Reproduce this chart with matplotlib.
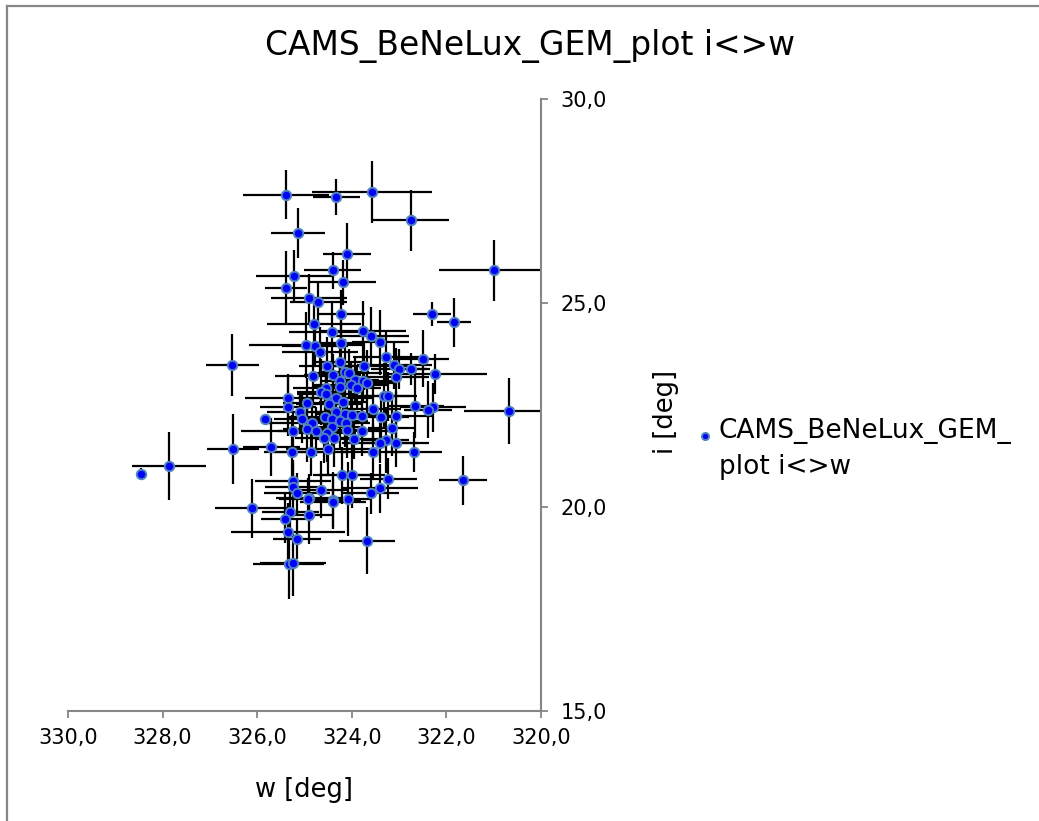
import matplotlib
matplotlib.use("Agg")
import matplotlib.pyplot as plt
from matplotlib.lines import Line2D
from matplotlib.ticker import FuncFormatter

# data (w, i and their uncertainties, deg)
w = [325.39, 324.33, 323.57, 322.75, 325.14, 324.10, 321.00, 324.40, 325.22, 325.39,
     324.19, 324.90, 324.71, 324.23, 324.80, 324.42, 322.30, 321.84, 323.76, 323.60,
     323.40, 324.97, 324.78, 324.67, 324.23, 323.28, 322.50, 323.10, 323.00, 322.75,
     322.24, 323.07, 324.52, 324.25, 323.74, 324.14, 324.06, 324.40, 324.82, 323.93,
     323.76, 323.68, 324.02, 324.25, 324.25, 323.89, 324.55, 324.65, 324.55, 324.33,
     324.19, 324.48, 325.35, 325.35, 324.95, 325.10, 325.05, 324.57, 324.33, 324.14,
     324.00, 323.78, 324.42, 324.25, 324.84, 324.12, 324.10, 324.42, 324.95, 324.76,
     324.52, 325.24, 323.78, 324.37, 324.59, 323.95, 324.50, 323.55, 323.32, 323.23,
     322.66, 322.28, 322.39, 323.07, 323.38, 323.15, 323.07, 323.28, 323.40, 322.69,
     323.55, 324.86, 325.26, 325.70, 325.83, 324.21, 324.00, 323.23, 321.65, 325.24,
     325.24, 325.16, 324.65, 323.40, 323.60, 324.90, 324.40, 324.08, 328.46, 327.86,
     326.51, 326.11, 325.30, 325.41, 325.35, 325.16, 325.33, 325.24, 324.93, 324.90,
     324.40, 323.68, 320.68, 326.53]
i = [27.65, 27.60, 27.72, 27.03, 26.72, 26.20, 25.80, 25.80, 25.66, 25.37,
     25.51, 25.12, 25.02, 24.73, 24.49, 24.29, 24.73, 24.53, 24.31, 24.19,
     24.04, 23.97, 23.95, 23.80, 24.02, 23.68, 23.63, 23.48, 23.38, 23.38,
     23.26, 23.19, 23.46, 23.55, 23.46, 23.31, 23.28, 23.24, 23.21, 23.11,
     23.09, 23.04, 22.99, 23.09, 22.94, 22.92, 22.92, 22.82, 22.77, 22.67,
     22.57, 22.52, 22.67, 22.45, 22.55, 22.33, 22.16, 22.20, 22.33, 22.28,
     22.25, 22.23, 22.16, 22.11, 22.06, 22.06, 21.89, 21.96, 21.91, 21.86,
     21.81, 21.86, 21.86, 21.69, 21.69, 21.67, 21.42, 22.40, 22.72, 22.72,
     22.48, 22.45, 22.38, 22.23, 22.20, 21.94, 21.57, 21.64, 21.57, 21.35,
     21.35, 21.35, 21.35, 21.47, 22.16, 20.78, 20.78, 20.69, 20.66, 20.64,
     20.49, 20.34, 20.42, 20.46, 20.34, 20.22, 20.17, 20.20, 20.80, 21.00,
     21.42, 19.97, 19.88, 19.71, 19.39, 19.22, 18.60, 18.62, 20.20, 19.80,
     20.12, 19.17, 22.35, 23.48]
w_err = [0.90, 0.50, 1.27, 0.80, 0.57, 0.50, 1.15, 0.60, 0.80, 0.45,
         0.70, 0.80, 0.60, 0.50, 1.00, 0.90, 0.40, 0.35, 0.90, 0.80,
         0.60, 1.20, 0.70, 0.80, 0.50, 0.70, 0.55, 0.80, 0.60, 0.40,
         1.10, 0.70, 0.60, 0.50, 0.90, 0.50, 0.70, 0.60, 0.80, 0.50,
         0.70, 0.60, 0.80, 0.40, 0.60, 0.50, 0.70, 0.50, 0.60, 0.80,
         0.50, 0.70, 0.90, 0.60, 0.50, 0.70, 0.60, 0.80, 0.50, 0.60,
         0.70, 0.90, 0.50, 0.60, 1.00, 0.50, 0.70, 0.60, 0.50, 0.80,
         0.60, 1.10, 0.70, 0.50, 0.60, 0.80, 0.90, 0.60, 0.70, 0.50,
         0.60, 0.70, 0.50, 0.80, 0.60, 0.50, 0.70, 0.50, 0.80, 0.60,
         0.70, 0.80, 0.60, 0.60, 0.05, 0.60, 0.70, 0.60, 0.50, 0.80,
         0.60, 0.70, 0.60, 0.80, 0.60, 0.70, 0.60, 0.50, 0.05, 0.78,
         0.55, 0.78, 0.60, 0.50, 1.20, 0.50, 0.75, 0.70, 0.60, 0.50,
         0.70, 0.60, 0.95, 0.56]
i_err = [0.60, 0.45, 0.75, 0.75, 0.62, 0.75, 0.75, 0.45, 0.65, 0.90,
         0.55, 0.60, 0.50, 0.60, 0.60, 0.70, 0.30, 0.60, 0.75, 0.70,
         0.80, 0.80, 0.50, 0.60, 0.60, 0.60, 0.70, 0.60, 0.50, 0.40,
         0.50, 0.70, 0.70, 0.50, 0.60, 0.80, 0.60, 0.50, 0.70, 0.60,
         0.50, 0.80, 0.60, 0.50, 0.70, 0.50, 0.60, 0.80, 0.50, 0.60,
         0.70, 0.50, 0.60, 0.70, 0.60, 0.50, 0.60, 0.70, 0.60, 0.80,
         0.50, 0.60, 0.50, 0.70, 0.60, 0.60, 0.70, 0.50, 0.80, 0.60,
         0.70, 0.50, 0.60, 0.70, 0.60, 0.50, 0.60, 0.70, 0.80, 0.60,
         0.80, 0.60, 0.70, 0.60, 0.50, 0.70, 0.60, 0.80, 0.50, 0.50,
         0.70, 0.60, 0.90, 0.70, 0.05, 0.70, 0.80, 0.50, 0.60, 0.50,
         0.60, 0.50, 0.70, 0.60, 0.50, 0.60, 0.70, 0.90, 0.15, 0.83,
         0.85, 0.72, 0.50, 0.60, 0.70, 0.50, 0.85, 0.80, 0.50, 0.70,
         0.60, 0.82, 0.80, 0.75]

series_name = "CAMS_BeNeLux_GEM_\nplot i<>w"

fig = plt.figure(figsize=(10.39, 8.21), dpi=100)
ax = fig.add_axes([0.0654, 0.134, 0.4553, 0.7454])

ax.errorbar(w, i, xerr=w_err, yerr=i_err, fmt='none', ecolor='black',
            elinewidth=1.6, capsize=0, zorder=2)
ax.plot(w, i, 'o', color='#0000ff', markeredgecolor='#4f81bd',
        markeredgewidth=1.4, markersize=6.8, linestyle='none', zorder=3,
        label=series_name)

ax.set_xlim(330, 320)
ax.set_ylim(15, 30)
ax.set_xticks([330, 328, 326, 324, 322, 320])
ax.set_yticks([15, 20, 25, 30])
fmt = FuncFormatter(lambda v, p: f"{v:.1f}".replace('.', ','))
ax.xaxis.set_major_formatter(fmt)
ax.yaxis.set_major_formatter(fmt)

ax.yaxis.tick_right()
for s in ['left', 'top']:
    ax.spines[s].set_visible(False)
for s in ['right', 'bottom']:
    ax.spines[s].set_color('#868686')
    ax.spines[s].set_linewidth(1.5)
ax.tick_params(axis='both', direction='out', length=5, width=1.3,
               color='#868686', labelsize=15, labelcolor='black')
ax.tick_params(axis='x', pad=7)
ax.tick_params(axis='y', pad=9)

ax.set_xlabel("w [deg]", fontsize=18.5, labelpad=21)
fig.text(666 / 1039, 1 - 412 / 821, "i [deg]", rotation=90, fontsize=18.5,
         ha='center', va='center')
fig.text(530 / 1039, 1 - 46 / 821, "CAMS_BeNeLux_GEM_plot i<>w", fontsize=23.7,
         ha='center', va='center')

# taller handle box lifts the marker up to the first text line, as in Excel
leg = ax.legend(loc='upper left', bbox_to_anchor=(0.672, 0.497),
                bbox_transform=fig.transFigure, frameon=False, fontsize=19,
                markerscale=0.75, handlelength=0.5, handleheight=4.2,
                handletextpad=0.27, borderpad=0, borderaxespad=0)
for t in leg.get_texts():
    t.set_linespacing(1.47)

# outer chart border (top and left edges visible in the reference)
fig.add_artist(Line2D([7 / 1039, 7 / 1039], [0, 1 - 6 / 821],
                      transform=fig.transFigure, color='#878787', lw=1.6))
fig.add_artist(Line2D([7 / 1039, 1], [1 - 6 / 821, 1 - 6 / 821],
                      transform=fig.transFigure, color='#878787', lw=1.6))

fig.savefig("out.png", dpi=100)
